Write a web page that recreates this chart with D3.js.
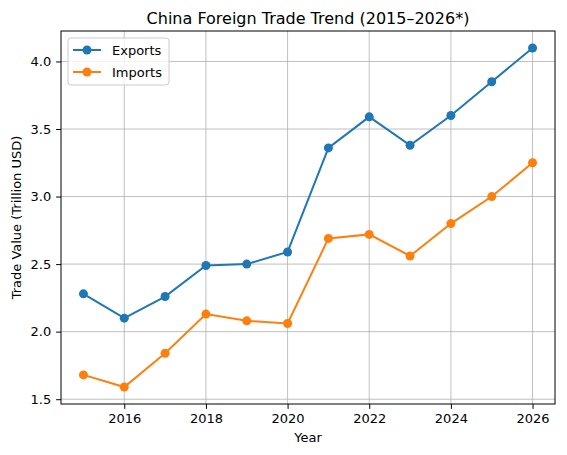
<!DOCTYPE html>
<html><head><meta charset="utf-8">
<script src="https://cdn.jsdelivr.net/npm/d3@7"></script>
<style>body{margin:0;background:#fff}svg{font-family:"DejaVu Sans",sans-serif}</style>
</head><body><svg id="c" width="567" height="455"></svg>
<script>
const years=[2015,2016,2017,2018,2019,2020,2021,2022,2023,2024,2025,2026];
const exportsV=[2.28,2.10,2.26,2.49,2.50,2.59,3.36,3.59,3.38,3.60,3.85,4.10];
const importsV=[1.68,1.59,1.84,2.13,2.08,2.06,2.69,2.72,2.56,2.80,3.00,3.25];
const xTicks=[2016,2018,2020,2022,2024,2026];
const yTicks=[1.5,2.0,2.5,3.0,3.5,4.0];
const series=[{name:"Exports",v:exportsV,c:"#1f77b4"},{name:"Imports",v:importsV,c:"#ff7f0e"}];
const L=61,R=555,T=31,B=404;
const svg=d3.select("#c");
const x=d3.scaleLinear().domain([2014.45,2026.55]).range([L,R]);
const y=d3.scaleLinear().domain([1.4645,4.2255]).range([B,T]);
const g=svg.append("g");
g.selectAll(".gx").data(xTicks).enter().append("line").attr("x1",d=>x(d)).attr("x2",d=>x(d)).attr("y1",T).attr("y2",B).attr("stroke","#b0b0b0").attr("stroke-width",0.8);
g.selectAll(".gy").data(yTicks).enter().append("line").attr("y1",d=>y(d)).attr("y2",d=>y(d)).attr("x1",L).attr("x2",R).attr("stroke","#b0b0b0").attr("stroke-width",0.8);
const xa=svg.append("g").attr("transform",`translate(0,${B})`).call(d3.axisBottom(x).tickValues(xTicks).tickFormat(d3.format("d")).tickSize(4.9).tickPadding(4.9));
const ya=svg.append("g").attr("transform",`translate(${L},0)`).call(d3.axisLeft(y).tickValues(yTicks).tickFormat(d3.format(".1f")).tickSize(4.9).tickPadding(4.9));
[xa,ya].forEach(a=>{a.select(".domain").remove();a.selectAll("text").attr("font-size",13).attr("fill","#000").attr("font-family","DejaVu Sans");a.selectAll("line").attr("stroke","#000").attr("stroke-width",1);});
svg.append("rect").attr("x",L).attr("y",T).attr("width",R-L).attr("height",B-T).attr("fill","none").attr("stroke","#000").attr("stroke-width",1);
const line=d3.line().x((d,i)=>x(years[i])).y(d=>y(d));
series.forEach(s=>{
 svg.append("path").attr("d",line(s.v)).attr("fill","none").attr("stroke",s.c).attr("stroke-width",2);
 svg.selectAll(null).data(s.v).enter().append("circle").attr("cx",(d,i)=>x(years[i])).attr("cy",d=>y(d)).attr("r",4.5).attr("fill",s.c);
});
svg.append("text").attr("x",(L+R)/2).attr("y",24).attr("text-anchor","middle").attr("font-size",16).text("China Foreign Trade Trend (2015–2026*)");
svg.append("text").attr("x",(L+R)/2).attr("y",442).attr("text-anchor","middle").attr("font-size",13).text("Year");
svg.append("text").attr("transform",`translate(21,${(T+B)/2}) rotate(-90)`).attr("text-anchor","middle").attr("font-size",13).text("Trade Value (Trillion USD)");
const lg=svg.append("g").attr("transform",`translate(68,38)`);
lg.append("rect").attr("width",101).attr("height",47).attr("rx",3).attr("fill","#fff").attr("fill-opacity",0.8).attr("stroke","#ccc");
series.forEach((s,i)=>{
 const yy=12+i*22;
 lg.append("line").attr("x1",5).attr("x2",33).attr("y1",yy).attr("y2",yy).attr("stroke",s.c).attr("stroke-width",2);
 lg.append("circle").attr("cx",19).attr("cy",yy).attr("r",4.5).attr("fill",s.c);
 lg.append("text").attr("x",44).attr("y",yy+4.5).attr("font-size",13).text(s.name);
});
</script></body></html>
